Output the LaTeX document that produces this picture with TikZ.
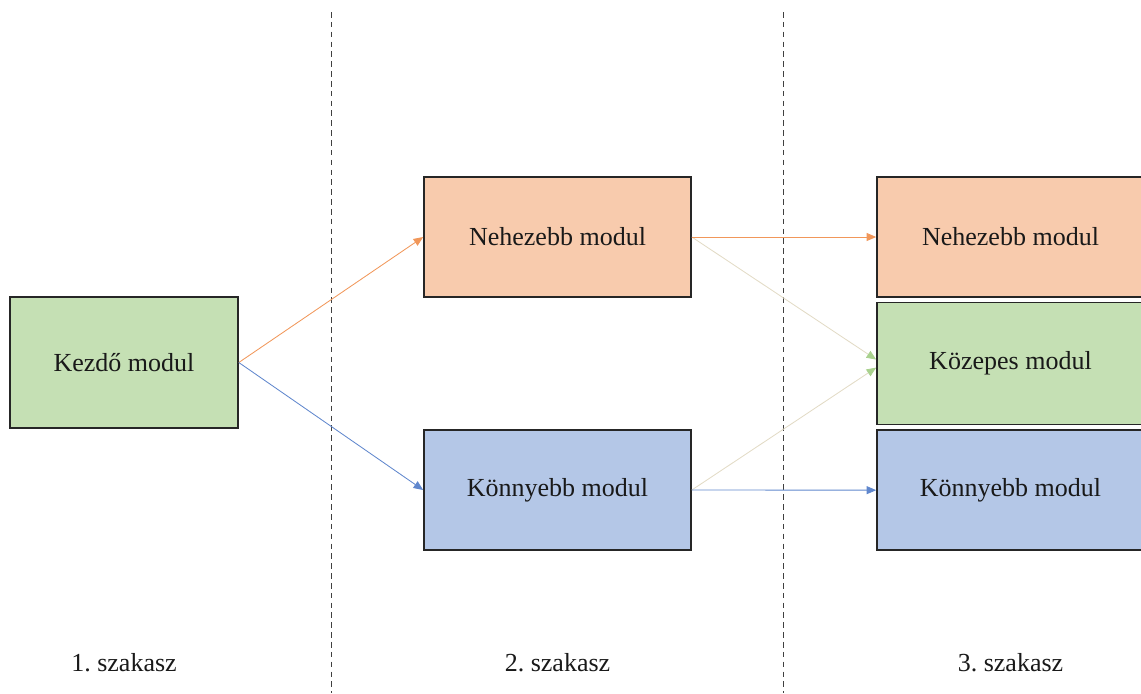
\documentclass[tikz,border=0pt]{standalone}
\usepackage{fontspec}
\setmainfont{Liberation Serif}
\usepackage{xcolor}
\usetikzlibrary{positioning, arrows.meta}

\definecolor{kezdofill}{HTML}{C5E0B4}
\definecolor{nehezfill}{HTML}{F8CBAD}
\definecolor{konnyufill}{HTML}{B4C7E7}
\definecolor{nehezline}{HTML}{ED7D31}
\definecolor{konnyuline}{HTML}{4472C4}
\definecolor{kozepline}{HTML}{E2DBC6}
\definecolor{kozeptip}{HTML}{A9D18E}

\begin{document}
\begin{tikzpicture}[x=0.025cm, y=-0.025cm, node distance=0.1cm]
    \tikzset{
        modul/.style={rectangle, draw=black!85, line width=1.1pt,
                     minimum width=6.675cm, minimum height=3cm,
                     font=\fontsize{18.5}{22}\selectfont, text=black!90},
        arrow/.style={line width=0.6pt, -{Triangle[length=0.24cm, width=0.2cm]}},
        szakasz/.style={font=\fontsize{18.5}{22}\selectfont, text=black!90},
        hatar/.style={black!75, line width=0.6pt, dash pattern=on 4pt off 3pt}
    }
    \useasboundingbox (0,0) rectangle (1141,693);
    % stage boundaries
    \draw[hatar] (331,12) -- (331,693);
    \draw[hatar] (783,12) -- (783,693);
    % stage 1
    \node[modul, fill=kezdofill, minimum width=5.7cm, minimum height=3.275cm] (kezdo) at (124,362.5) {Kezdő modul};
    % stage 2
    \node[modul, fill=nehezfill] (nehez2) at (557.5,237) {Nehezebb modul};
    \node[modul, fill=konnyufill] (konnyu2) at (557.5,490) {Könnyebb modul};
    % stage 3
    \node[modul, fill=nehezfill] (nehez3) at (1010.5,237) {Nehezebb modul};
    \node[modul, fill=kezdofill, minimum height=3.05cm, below=of nehez3] (kozep3) {Közepes modul};
    \node[modul, fill=konnyufill, below=of kozep3] (konnyu3) {Könnyebb modul};
    % labels
    \node[szakasz] (sz1) at (124,663) {1.\ szakasz};
    \node[szakasz] (sz2) at (557.5,663) {2.\ szakasz};
    \node[szakasz] (sz3) at (1010.5,663) {3.\ szakasz};
    % arrows
    \draw[arrow, kozepline, -{Triangle[length=0.24cm, width=0.2cm, color=kozeptip]}] (nehez2.east) -- ([yshift=0.1cm]kozep3.west);
    \draw[arrow, kozepline, -{Triangle[length=0.24cm, width=0.2cm, color=kozeptip]}] (konnyu2.east) -- ([yshift=-0.1cm]kozep3.west);
    \draw[arrow, nehezline!80] (kezdo.east) -- (nehez2.west);
    \draw[arrow, konnyuline!85] (kezdo.east) -- (konnyu2.west);
    \draw[arrow, nehezline!80] (nehez2.east) -- (nehez3.west);
    \draw[arrow, konnyuline!85] (konnyu2.east) -- (konnyu3.west);
\end{tikzpicture}
\end{document}
